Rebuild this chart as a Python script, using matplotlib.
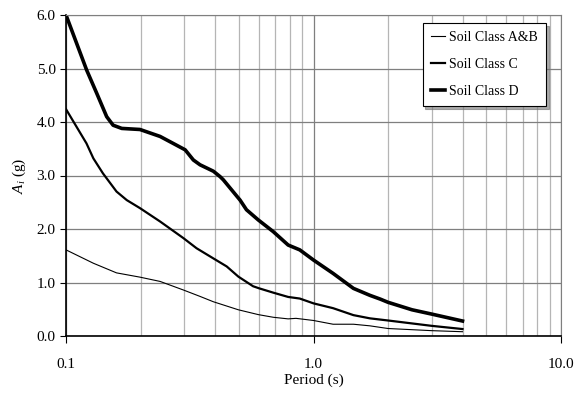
import matplotlib.pyplot as plt
from matplotlib.ticker import FixedLocator, NullFormatter, FixedFormatter

plt.rcParams['font.family'] = ['Liberation Serif', 'DejaVu Serif']
plt.rcParams['mathtext.fontset'] = 'custom'
plt.rcParams['mathtext.rm'] = 'Liberation Serif'
plt.rcParams['mathtext.it'] = 'Liberation Serif:italic'

# values: period (s) and A_i (g)
period_ab = [0.1, 0.129, 0.160, 0.199, 0.240, 0.298, 0.348, 0.394, 0.497, 0.598, 0.688,
             0.79, 0.85, 1.0, 1.2, 1.45, 1.69, 2.0, 3.0, 4.0]
soil_ab = [1.61, 1.36, 1.18, 1.10, 1.02, 0.86, 0.74, 0.64, 0.49, 0.40, 0.35,
           0.32, 0.33, 0.29, 0.22, 0.22, 0.19, 0.14, 0.10, 0.08]

period_c = [0.1, 0.121, 0.129, 0.141, 0.160, 0.176, 0.199, 0.240, 0.298, 0.337, 0.394,
            0.446, 0.497, 0.57, 0.604, 0.688, 0.79, 0.88, 1.0, 1.2, 1.45, 1.69, 2.0, 3.0, 4.0]
soil_c = [4.24, 3.60, 3.32, 3.04, 2.70, 2.54, 2.39, 2.14, 1.83, 1.64, 1.45,
          1.30, 1.11, 0.93, 0.89, 0.81, 0.73, 0.70, 0.61, 0.52, 0.39, 0.33, 0.29, 0.19, 0.13]

period_d = [0.1, 0.1104, 0.1212, 0.133, 0.146, 0.155, 0.168, 0.199, 0.240, 0.271, 0.303,
            0.327, 0.348, 0.394, 0.419, 0.432, 0.505, 0.536, 0.598, 0.688, 0.79, 0.88,
            1.0, 1.2, 1.45, 1.69, 1.86, 2.0, 2.5, 3.0, 4.0]
soil_d = [6.0, 5.47, 4.97, 4.54, 4.10, 3.94, 3.88, 3.86, 3.73, 3.60, 3.48,
          3.29, 3.20, 3.08, 2.98, 2.92, 2.54, 2.36, 2.17, 1.95, 1.70, 1.61,
          1.42, 1.17, 0.89, 0.76, 0.69, 0.63, 0.49, 0.41, 0.28]

fig = plt.figure(figsize=(5.75, 3.93), dpi=100)
ax = fig.add_axes([66/575, 57/393, 495/575, 321/393])

ax.plot(period_ab, soil_ab, color='black', lw=0.8, label='Soil Class A&B', solid_joinstyle='round')
ax.plot(period_c, soil_c, color='black', lw=1.6, label='Soil Class C', solid_joinstyle='round')
ax.plot(period_d, soil_d, color='black', lw=2.6, label='Soil Class D', solid_joinstyle='round')

ax.set_xscale('log')
ax.set_xlim(0.1, 10)
ax.set_ylim(0, 6)

ax.xaxis.set_major_locator(FixedLocator([0.1, 1, 10]))
ax.xaxis.set_major_formatter(FixedFormatter(['0.1', '1.0', '10.0']))
minors = [m * d for d in (0.1, 1) for m in range(2, 10)]
ax.xaxis.set_minor_locator(FixedLocator(minors))
ax.xaxis.set_minor_formatter(NullFormatter())
ax.set_yticks([0, 1, 2, 3, 4, 5, 6])
ax.set_yticklabels(['%.1f' % v for v in range(7)])

ax.grid(True, which='major', color='#7f7f7f', lw=0.9)
ax.grid(True, which='minor', axis='x', color='#b5b5b5', lw=0.9)
ax.set_axisbelow(True)

ax.tick_params(axis='x', which='major', direction='out', length=5, pad=11, labelsize=11)
ax.tick_params(axis='x', which='minor', length=0)
ax.tick_params(axis='y', direction='out', length=4, labelsize=11)

for s in ('top', 'right'):
    ax.spines[s].set_color('#7f7f7f')
ax.spines['left'].set_linewidth(1.2)
ax.spines['bottom'].set_linewidth(1.2)

ax.set_xlabel('Period (s)', fontsize=11, labelpad=2)
ax.set_ylabel(r'$A_i$ (g)', fontsize=11, labelpad=6)

leg = ax.legend(loc='upper right', bbox_to_anchor=(0.984, 0.997), fontsize=10,
                fancybox=False, shadow={'color': '0.45', 'alpha': 0.6},
                edgecolor='black', framealpha=1,
                handlelength=1.0, handletextpad=0.3, labelspacing=1.0, borderpad=0.6)
leg.get_frame().set_linewidth(0.8)

fig.savefig('out.png', dpi=100)
